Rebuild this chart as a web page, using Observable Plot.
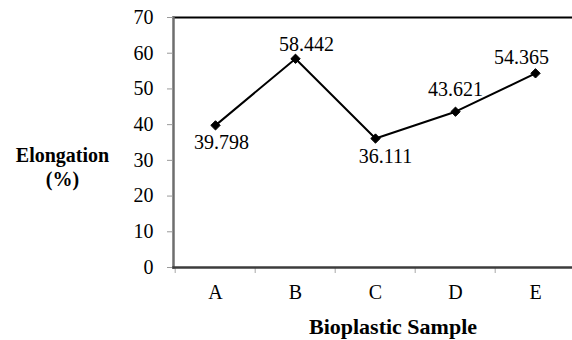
<!DOCTYPE html>
<html>
<head>
<meta charset="utf-8">
<script src="https://cdn.jsdelivr.net/npm/d3@7"></script>
<script src="https://cdn.jsdelivr.net/npm/@observablehq/plot@0.6"></script>
<style>
  html, body { margin: 0; padding: 0; background: white; overflow: hidden; }
  #chart { width: 572px; height: 340px; overflow: hidden; }
</style>
</head>
<body>
<div id="chart"></div>
<script>
const samples = ["A", "B", "C", "D", "E"];
const elongation = [39.798, 58.442, 36.111, 43.621, 54.365];
const labelText = ["39.798", "58.442", "36.111", "43.621", "54.365"];
const yTicks = [0, 10, 20, 30, 40, 50, 60, 70];

const data = samples.map((s, i) => ({sample: s, value: elongation[i], label: labelText[i]}));
// label offsets (pixels) per point, matching the reference placement
const labelDx = [6, 11, 10, 0, -14];
const labelDy = [17, -14, 18, -22, -16];

const W = 576, ML = 173, MR = 0;
const bw = (W - ML - MR) / samples.length;
const font = "'Liberation Serif', 'Times New Roman', serif";

const chart = Plot.plot({
  width: W,
  height: 340,
  marginLeft: ML,
  marginRight: MR,
  marginTop: 17,
  marginBottom: 73,
  style: {fontFamily: font, fontSize: "20px", color: "black", background: "white", maxWidth: "none", overflow: "hidden"},
  x: {type: "band", domain: samples, padding: 0, label: null},
  y: {domain: [0, 70], label: null},
  marks: [
    Plot.frame({anchor: "top", stroke: "black", strokeWidth: 2}),
    Plot.frame({anchor: "left", stroke: "#6e6e6e", strokeWidth: 2.5}),
    Plot.axisY({ticks: yTicks, tickSize: 6, tickPadding: 14, stroke: "#9a9a9a", fill: "black", fontSize: 20, label: null}),
    Plot.axisX({tickSize: 6, text: null, dx: -bw / 2, stroke: "#a8a8a8", label: null}),
    Plot.axisX({tickSize: 0, tickPadding: 17, fill: "black", fontSize: 20, label: null}),
    Plot.frame({anchor: "bottom", stroke: "#3c3c3c", strokeWidth: 2.5}),
    Plot.line(data, {x: "sample", y: "value", stroke: "black", strokeWidth: 2}),
    Plot.dot(data, {x: "sample", y: "value", symbol: "diamond2", r: 4.2, fill: "black", stroke: "black", strokeWidth: 1}),
    ...data.map((d, i) => Plot.text([d], {x: "sample", y: "value", text: "label", dx: labelDx[i], dy: labelDy[i], fontSize: 20, fill: "black"})),
    Plot.text(["Elongation\n(%)"], {frameAnchor: "left", textAnchor: "middle", dx: -111, dy: 24, fontSize: 20, fontWeight: "bold", lineHeight: 1.2, fill: "black"}),
    Plot.text(["Bioplastic Sample"], {frameAnchor: "bottom", textAnchor: "middle", dx: 18, dy: 66, fontSize: 22, fontWeight: "bold", fill: "black"})
  ]
});
document.getElementById("chart").appendChild(chart);
</script>
</body>
</html>
